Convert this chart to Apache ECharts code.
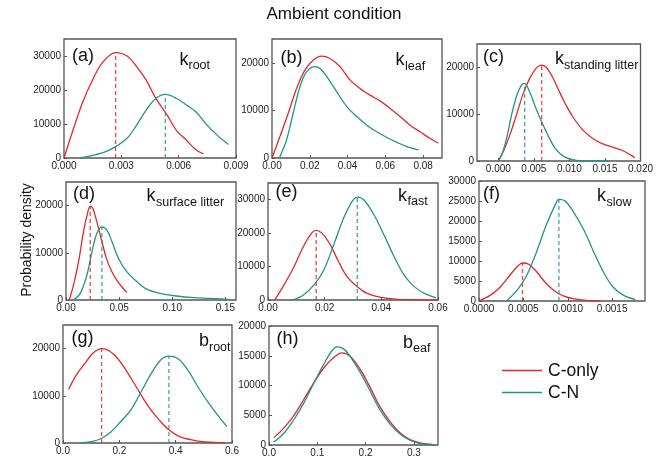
<!DOCTYPE html>
<html><head><meta charset="utf-8">
<script src="https://cdn.jsdelivr.net/npm/echarts@6/dist/echarts.min.js"></script>
<style>html,body{margin:0;padding:0;background:#fff}#c{width:656px;height:461px}</style>
</head><body><div id="c"></div>
<script>
const FONT = '"Liberation Sans", Arial, sans-serif';
const RED = '#e0292b', TEAL = '#23928a';

// ---- data (x, probability density) ----
const aCOnly = [[0,0],[0.00046,8000],[0.00098,16500],[0.0015,23000],[0.002,28000],[0.0027,31000],[0.0033,30000],[0.0038,26900],[0.0043,22900],[0.0048,17600],[0.0054,12600],[0.0059,8000],[0.0064,5300],[0.0069,2400],[0.0073,1200]];
const aCN = [[0.00084,0],[0.0016,900],[0.0024,2400],[0.0033,5800],[0.0038,9700],[0.0043,14100],[0.0048,17500],[0.0053,18700],[0.0059,17500],[0.0064,15600],[0.0069,13600],[0.0074,10200],[0.008,6800],[0.0086,4000]];
const aPeaks = [[0.0027,31000],[0.0053,18600]];

const bCOnly = [[0,0],[0.0042,4500],[0.0086,9400],[0.013,14600],[0.0175,18500],[0.0219,20600],[0.0263,21400],[0.0307,20900],[0.036,19200],[0.0413,16400],[0.0466,14600],[0.0519,13200],[0.0572,12000],[0.0625,10400],[0.0678,8700],[0.0731,6900],[0.0784,5500],[0.0837,4100],[0.0881,3100]];
const bCN = [[0.0039,0],[0.0077,3800],[0.0112,9400],[0.0148,15000],[0.0183,18100],[0.0228,19200],[0.0254,18800],[0.029,17100],[0.0343,13900],[0.0396,10800],[0.0449,8700],[0.0502,6900],[0.0555,5500],[0.0608,4300],[0.0661,3300],[0.0714,2400],[0.0776,1700]];

const cCOnly = [[0,0],[0.00078,2300],[0.0017,5900],[0.0026,10100],[0.0035,14400],[0.0044,17600],[0.0053,19800],[0.006,20500],[0.0067,20100],[0.0076,18000],[0.0085,15100],[0.0094,12300],[0.0105,9400],[0.0119,6600],[0.0133,4800],[0.0146,3700],[0.016,3000],[0.0174,2300],[0.0187,1200],[0.0192,700]];
const cCN = [[0,0],[0.00055,1600],[0.0012,5100],[0.0019,10100],[0.0026,14000],[0.0033,16300],[0.0037,16600],[0.0044,14800],[0.0053,11200],[0.0062,8000],[0.0071,5100],[0.008,2700],[0.0092,1000],[0.011,150],[0.0128,0],[0.0155,0]];
const cPeaks = [[0.0061,20400],[0.0037,16600]];

const dCOnly = [[0.003,0],[0.0071,3200],[0.0118,8100],[0.0165,14500],[0.0203,18400],[0.0228,19900],[0.0253,19400],[0.029,16600],[0.0338,12400],[0.0385,8500],[0.0432,6000],[0.0478,4200],[0.0525,2800],[0.0572,1600]];
const dCN = [[0.0071,0],[0.0134,1400],[0.0197,5300],[0.0244,10200],[0.029,14100],[0.0338,15500],[0.0385,14800],[0.0432,12400],[0.0494,8800],[0.0572,6000],[0.0666,3900],[0.076,2300],[0.0885,1400],[0.104,850],[0.12,500],[0.135,350],[0.1525,150]];
const dPeaks = [[0.0228,19900],[0.0338,15500]];

const eCOnly = [[0.0024,0],[0.0053,4000],[0.0089,9500],[0.0125,16000],[0.0154,20000],[0.017,20800],[0.019,20000],[0.022,16500],[0.0249,11500],[0.0279,7000],[0.0315,4000],[0.035,2000],[0.0398,800],[0.0457,200],[0.0528,0],[0.06,0]];
const eCN = [[0.0089,0],[0.0125,1500],[0.016,4300],[0.0196,8800],[0.0231,16300],[0.0267,24500],[0.0297,29500],[0.0315,30800],[0.0338,30000],[0.0374,25500],[0.0409,19500],[0.0445,13000],[0.048,7500],[0.0516,4000],[0.0552,2000],[0.0593,700]];
const ePeaks = [[0.017,20800],[0.0315,30800]];

const fCOnly = [[0,0],[0.000125,1400],[0.00024,3500],[0.00035,6500],[0.00044,8800],[0.00049,9500],[0.00056,9200],[0.00065,7300],[0.00074,4800],[0.00084,2700],[0.00095,1260],[0.00106,600],[0.00121,170],[0.00137,0]];
const fCN = [[0.00031,0],[0.00043,2700],[0.00054,6500],[0.00065,12400],[0.00076,19100],[0.00086,24100],[0.0009,25400],[0.00097,25000],[0.00106,22400],[0.00118,17800],[0.00129,12400],[0.0014,7300],[0.00151,3500],[0.00163,1400],[0.00176,350]];
const fPeaks = [[0.00049,9500],[0.0009,25400]];

const gCOnly = [[0.02,11400],[0.047,14400],[0.077,16800],[0.106,19000],[0.137,20000],[0.165,19500],[0.194,17900],[0.224,15400],[0.253,12600],[0.282,9700],[0.312,7000],[0.341,4900],[0.376,2800],[0.412,1400],[0.453,700],[0.494,280],[0.541,130],[0.576,0]];
const gCN = [[0.065,0],[0.106,350],[0.137,1000],[0.171,2400],[0.206,4600],[0.241,7000],[0.277,10800],[0.312,14600],[0.347,17600],[0.376,18400],[0.412,17700],[0.447,15100],[0.482,11600],[0.518,8400],[0.553,5600],[0.582,3500]];
const gPeaks = [[0.137,20000],[0.376,18400]];

const hCOnly = [[0.0096,1200],[0.03,2800],[0.051,4900],[0.0717,7600],[0.0923,10400],[0.113,12900],[0.134,14700],[0.151,15500],[0.168,14900],[0.189,12700],[0.21,9600],[0.23,6400],[0.251,3900],[0.272,2000],[0.292,900],[0.313,340],[0.341,70]];
const hCN = [[0.0096,500],[0.03,1900],[0.051,4200],[0.0717,7000],[0.0923,10300],[0.113,13500],[0.13,15800],[0.141,16500],[0.154,16200],[0.168,14900],[0.189,12200],[0.21,9000],[0.23,5900],[0.251,3500],[0.272,1800],[0.292,800],[0.313,240],[0.344,0]];

// ---- tick labels ----
const aXTicks = [0,0.003,0.006,0.009], aYTicks = [0,10000,20000,30000];
const bXTicks = [0,0.02,0.04,0.06,0.08], bYTicks = [0,10000,20000];
const cXTicks = [0,0.005,0.01,0.015,0.02], cYTicks = [0,10000,20000];
const dXTicks = [0,0.05,0.1,0.15], dYTicks = [0,10000,20000];
const eXTicks = [0,0.02,0.04,0.06], eYTicks = [0,10000,20000,30000];
const fXTicks = [0,0.0005,0.001,0.0015], fYTicks = [0,5000,10000,15000,20000,25000,30000];
const gXTicks = [0,0.2,0.4,0.6], gYTicks = [0,10000,20000];
const hXTicks = [0,0.1,0.2,0.3], hYTicks = [0,5000,10000,15000,20000];

const panels = [
  {box:[64,39,172,119], xr:[0,0.009], xt:aXTicks, xd:3, yr:[0,35000], yt:aYTicks, red:aCOnly, teal:aCN, peaks:aPeaks},
  {box:[272,39,170,119], xr:[0,0.09], xt:bXTicks, xd:2, yr:[0,25000], yt:bYTicks, red:bCOnly, teal:bCN, peaks:null},
  {box:[477,44,169,117], xr:[-0.003,0.02], xt:cXTicks, xd:3, yr:[0,25000], yt:cYTicks, red:cCOnly, teal:cCN, peaks:cPeaks},
  {box:[66,182,170,118], xr:[0,0.16], xt:dXTicks, xd:2, yr:[0,25000], yt:dYTicks, red:dCOnly, teal:dCN, peaks:dPeaks},
  {box:[268,183,170,117], xr:[0,0.06], xt:eXTicks, xd:2, yr:[0,35000], yt:eYTicks, red:eCOnly, teal:eCN, peaks:ePeaks},
  {box:[479,181,166,120], xr:[0,0.00187], xt:fXTicks, xd:4, yr:[0,30000], yt:fYTicks, red:fCOnly, teal:fCN, peaks:fPeaks},
  {box:[63,325,169,118], xr:[0,0.6], xt:gXTicks, xd:1, yr:[0,25000], yt:gYTicks, red:gCOnly, teal:gCN, peaks:gPeaks},
  {box:[269,326,169,119], xr:[0,0.35], xt:hXTicks, xd:1, yr:[0,20000], yt:hYTicks, red:hCOnly, teal:hCN, peaks:null}
];

const grid = [], xAxis = [], yAxis = [], series = [];
panels.forEach((p, i) => {
  grid.push({left:p.box[0], top:p.box[1], width:p.box[2], height:p.box[3], show:true, borderColor:'#555', borderWidth:1.3, backgroundColor:'transparent'});
  xAxis.push({type:'value', gridIndex:i, min:p.xr[0], max:p.xr[1],
    axisLine:{show:false, onZero:false}, splitLine:{show:false},
    axisTick:{show:true, inside:true, length:3, customValues:p.xt, lineStyle:{color:'#555'}},
    axisLabel:{customValues:p.xt, formatter:v => v.toFixed(p.xd), fontSize:10, color:'#222', margin:3, fontFamily:FONT}});
  yAxis.push({type:'value', gridIndex:i, min:p.yr[0], max:p.yr[1],
    axisLine:{show:false, onZero:false}, splitLine:{show:false},
    axisTick:{show:true, inside:true, length:3, customValues:p.yt, lineStyle:{color:'#555'}},
    axisLabel:{customValues:p.yt, formatter:v => String(Math.round(v)), fontSize:10, color:'#222', margin:3, fontFamily:FONT}});
  const base = {type:'line', xAxisIndex:i, yAxisIndex:i, showSymbol:false, symbol:'none', smooth:0.35, silent:true, animation:false};
  series.push(Object.assign({}, base, {name:'C-only', data:p.red, lineStyle:{color:RED, width:1.3}}));
  series.push(Object.assign({}, base, {name:'C-N', data:p.teal, lineStyle:{color:TEAL, width:1.3}}));
  if (p.peaks) {
    const cols = [RED, TEAL];
    p.peaks.forEach((pk, k) => {
      series.push(Object.assign({}, base, {smooth:false, data:[[pk[0],0],[pk[0],pk[1]]],
        lineStyle:{color:cols[k], width:1.3, type:[4,3], opacity:0.85}}));
    });
  }
});

function txt(s, x, baseline, fs, extra) {
  return Object.assign({type:'text', x:x, y:baseline - 0.35*fs, silent:true,
    style:{text:s, fontSize:fs, fontFamily:FONT, fill:'#111', textAlign:'left', textVerticalAlign:'middle'}}, extra || {});
}
const labels = [
  ['(a)',72,62,'k',179.5,66,'root',188.5,69.5],
  ['(b)',280.5,64,'k',395.5,66,'leaf',405,71],
  ['(c)',483,63,'k',555,65,'standing litter',564,69.5],
  ['(d)',73,200.5,'k',146.5,202,'surface litter',156,206.5],
  ['(e)',275.5,198.5,'k',398,202,'fast',407.5,206],
  ['(f)',483,200,'k',597,202,'slow',606.5,206.5],
  ['(g)',71.5,344,'b',199,347,'root',209,351.5],
  ['(h)',276.5,345.5,'b',403,349,'eaf',413,353]
];
const graphic = [];
labels.forEach(l => {
  graphic.push(txt(l[0], l[1], l[2], 18));
  graphic.push(txt(l[3], l[4], l[5], 18));
  graphic.push(txt(l[6], l[7], l[8], 12.5));
});
graphic.push({type:'text', x:334, y:14, silent:true, style:{text:'Ambient condition', fontSize:17, fontFamily:FONT, fill:'#111', textAlign:'center', textVerticalAlign:'middle'}});
graphic.push({type:'text', x:27, y:240, rotation:Math.PI/2, silent:true, style:{text:'Probability density', fontSize:14, fontFamily:FONT, fill:'#111', textAlign:'center', textVerticalAlign:'middle'}});
graphic.push({type:'line', silent:true, shape:{x1:502, y1:370.5, x2:542, y2:370.5}, style:{stroke:RED, lineWidth:1.3}});
graphic.push({type:'line', silent:true, shape:{x1:502, y1:392.5, x2:542, y2:392.5}, style:{stroke:TEAL, lineWidth:1.3}});
graphic.push(txt('C-only', 548, 377, 17.5));
graphic.push(txt('C-N', 548, 399.3, 17.5));

const chart = echarts.init(document.getElementById('c'), null, {renderer:'canvas'});
chart.setOption({animation:false, backgroundColor:'#fff', grid, xAxis, yAxis, series, graphic});
</script></body></html>
